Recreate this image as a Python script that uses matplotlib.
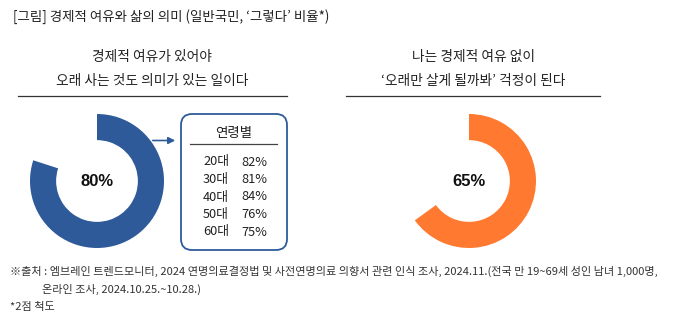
import matplotlib
matplotlib.use("Agg")
import matplotlib.pyplot as plt
from matplotlib.patches import FancyBboxPatch

plt.rcParams['font.family'] = ['Noto Sans CJK KR', 'DejaVu Sans']

W, H = 677, 323

title = "[그림] 경제적 여유와 삶의 의미 (일반국민, ‘그렇다’ 비율*)"
left_sub = ["경제적 여유가 있어야", "오래 사는 것도 의미가 있는 일이다"]
right_sub = ["나는 경제적 여유 없이", "‘오래만 살게 될까봐’ 걱정이 된다"]
left_value = 80
right_value = 65
age_title = "연령별"
ages = ["20대", "30대", "40대", "50대", "60대"]
age_values = [82, 81, 84, 76, 75]
notes = ["※출처 : 엠브레인 트렌드모니터, 2024 연명의료결정법 및 사전연명의료 의향서 관련 인식 조사, 2024.11.(전국 만 19~69세 성인 남녀 1,000명,",
         "온라인 조사, 2024.10.25.~10.28.)",
         "*2점 척도"]

blue = "#2E5A9A"
orange = "#FF7A30"
txt = "#222222"

fig = plt.figure(figsize=(W / 100, H / 100), dpi=100)
ax = fig.add_axes([0, 0, 1, 1])
ax.set_xlim(0, W)
ax.set_ylim(H, 0)
ax.axis('off')

ax.text(13, 17, title, fontsize=9.7, color=txt, va='center', ha='left')

# subtitles + rules
for cx, lines, x0, x1 in [(152, left_sub, 18, 287), (473, right_sub, 346, 600)]:
    ax.text(cx, 57, lines[0], fontsize=9.9, color=txt, ha='center', va='center')
    ax.text(cx, 81, lines[1], fontsize=9.9, color=txt, ha='center', va='center')
    ax.plot([x0, x1], [95.5, 95.5], color='#333333', lw=0.9)


def donut(cx, cy, r, value, color):
    dax = fig.add_axes([(cx - r) / W, (H - cy - r) / H, 2 * r / W, 2 * r / H])
    dax.pie([value, 100 - value], colors=[color, 'none'], startangle=90,
            counterclock=False, radius=1, wedgeprops=dict(width=0.39, edgecolor='none'))
    dax.set_xlim(-1, 1)
    dax.set_ylim(-1, 1)
    dax.set_aspect('equal')
    dax.axis('off')
    dax.text(0, 0, f"{value}%", fontsize=12, fontweight='bold', family=['Liberation Sans'],
             ha='center', va='center', color='#111111')


donut(97, 181, 67, left_value, blue)
donut(469, 181, 67, right_value, orange)

# arrow to age box
ax.annotate("", xy=(178, 140.5), xytext=(150, 140.5),
            arrowprops=dict(arrowstyle='-|>', color=blue, lw=1.2, mutation_scale=10))

box = FancyBboxPatch((181, 114), 106, 136, boxstyle="round,pad=0,rounding_size=11",
                     fc='white', ec=blue, lw=1.3)
ax.add_patch(box)
ax.text(234, 133, age_title, fontsize=9.7, ha='center', va='center', color=txt)
ax.plot([190, 277], [143.5, 143.5], color='#444444', lw=0.9)
for i, (a, v) in enumerate(zip(ages, age_values)):
    y = 162 + i * 17.5
    ax.text(203, y, a, fontsize=9.2, ha='left', va='center', color=txt)
    ax.text(267, y, f"{v}%", fontsize=9.2, ha='right', va='center', color=txt)

ax.text(10, 271, notes[0], fontsize=8, color='#333333', ha='left', va='center')
ax.text(42, 289, notes[1], fontsize=8, color='#333333', ha='left', va='center')
ax.text(10, 307, notes[2], fontsize=8, color='#333333', ha='left', va='center')

fig.savefig("out.png", dpi=100)
